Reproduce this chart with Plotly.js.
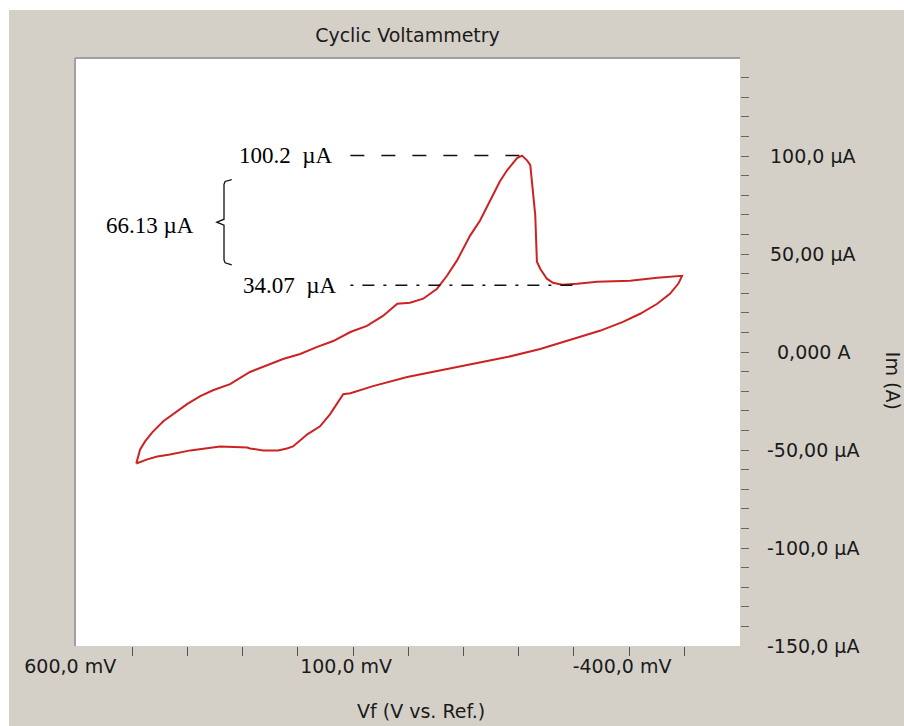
<!DOCTYPE html>
<html>
<head>
<meta charset="utf-8">
<script src="https://cdn.plot.ly/plotly-3.0.1.min.js"></script>
<style>
  html, body { margin: 0; padding: 0; background: #ffffff; }
  #chart { position: absolute; left: 9px; top: 10px; width: 895px; height: 716px; }
</style>
</head>
<body>
<div id="chart"></div>
<script>
// ---- Data ----
// Potential Vf in mV, current Im in µA, one closed cyclic voltammogram loop
const potential_mV = [
  493, 486, 477, 464, 444, 419, 401, 377, 354, 323, 287, 227, 196, 165, 136, 105, 75, 46, 20, -3,
  -27, -52, -70, -88, -112, -130, -154, -166, -179, -197, -206, -215, -221, -226, -230, -233, -239, -251, -262, -279,
  -306, -342, -402, -451, -487, -496,
  -492, -489, -474, -451, -420, -389, -347, -299, -239, -179, -117, -58, 2, 64, 105, 118, 142, 160, 183, 209,
  220, 236, 263, 287, 292, 341, 372, 395, 432, 455, 473, 493
];
const current_uA = [
  -56.9, -49.7, -45.6, -41.0, -35.3, -30.2, -26.6, -22.5, -19.5, -16.4, -10.2, -3.6, -1.0, 2.6, 5.6, 10.2, 13.3, 18.4, 24.6, 25.1,
  27.2, 32.3, 38.9, 46.6, 59.4, 67.1, 79.9, 87.1, 92.7, 98.9, 100.2, 97.8, 95.3, 79.9, 69.7, 46.1, 42.5, 37.4, 35.3, 34.3,
  34.8, 35.9, 36.4, 37.9, 38.9, 38.9,
  36.4, 34.8, 29.7, 24.6, 19.5, 15.4, 10.8, 6.7, 1.5, -2.6, -6.1, -9.7, -12.8, -17.4, -21.0, -21.5, -31.8, -37.9, -42.0, -48.2,
  -49.2, -50.2, -50.2, -49.2, -48.7, -48.2, -49.2, -50.2, -52.3, -53.3, -54.8, -56.9
];

const xTickVals = [600, 100, -400];
const xTickText = ['600,0 mV', '100,0 mV', '-400,0 mV'];
const xMarkVals = [500, 400, 300, 200, 100, 0, -100, -200, -300, -400, -500];

const yTickVals = [100, 50, 0, -50, -100, -150];
const yTickText = ['100,0 µA', '50,00 µA', '0,000 A', '-50,00 µA', '-100,0 µA', '-150,0 µA'];
const yMarkVals = [140, 130, 120, 110, 100, 90, 80, 70, 60, 50, 40, 30, 20, 10, 0, -10, -20, -30, -40, -50,
                   -60, -70, -80, -90, -100, -110, -120, -130, -140];

const peakCurrent = 100.2;      // µA
const baseCurrent = 34.07;      // µA
const deltaCurrent = 66.13;     // µA
const peakPotential = -206;     // mV
const baseEndPotential = -302;  // mV

const chartTitle = 'Cyclic Voltammetry';
const xTitle = 'Vf (V vs. Ref.)';
const yTitle = 'Im (A)';

// ---- Styling / layout ----
const sans = 'DejaVu Sans, Liberation Sans, Arial, sans-serif';
const serif = 'Liberation Serif, Times New Roman, serif';
const textColor = '#1a1a1a';
const sansSize = 19;
const serifSize = 23;
const nb = '\u00a0';

const trace = {
  x: potential_mV,
  y: current_uA,
  type: 'scatter',
  mode: 'lines',
  line: { color: '#cc2222', width: 2 },
  hoverinfo: 'none',
  showlegend: false
};

const lineStart = 105;   // mV, where the dashed guide lines begin
const labelRight = 130;  // mV, right edge of the value labels
const bracketX = 334, bracketTip = 347, bracketHook = 320;
const bTop = 87, bBot = 45.5, bMid = (bTop + bBot) / 2;

const shapes = [
  // sunken border (top and left edges of plot area)
  { type: 'line', xref: 'paper', yref: 'paper', x0: 0, x1: 1, y0: 1, y1: 1,
    line: { color: '#a0a0a0', width: 2 } },
  { type: 'line', xref: 'paper', yref: 'paper', x0: 0, x1: 0, y0: 0, y1: 1,
    line: { color: '#a0a0a0', width: 2 } },
  // peak guide
  { type: 'line', xref: 'x', yref: 'y', x0: lineStart, x1: peakPotential, y0: peakCurrent, y1: peakCurrent,
    line: { color: '#111', width: 1.5, dash: '14px,17px' } },
  // base guide
  { type: 'line', xref: 'x', yref: 'y', x0: lineStart, x1: baseEndPotential, y0: baseCurrent, y1: baseCurrent,
    line: { color: '#111', width: 1.5, dash: '3px,9px,12px,9px' } },
  // curly bracket
  { type: 'path', xref: 'x', yref: 'y',
    path: `M ${bracketHook},${bTop + 1} L ${bracketX - 2},${bTop} L ${bracketX},${bTop - 1.5} ` +
          `L ${bracketX},${bMid + 1.5} L ${bracketTip},${bMid} L ${bracketX},${bMid - 1.5} ` +
          `L ${bracketX},${bBot + 1.5} L ${bracketX - 2},${bBot} L ${bracketHook},${bBot - 1}`,
    line: { color: '#111', width: 1.3 } }
];

const annotations = [
  { xref: 'x', yref: 'y', x: labelRight + 3, y: peakCurrent, xanchor: 'right', yanchor: 'middle',
    text: peakCurrent.toFixed(1) + nb + nb + 'µA', showarrow: false,
    font: { family: serif, size: serifSize, color: '#000' } },
  { xref: 'x', yref: 'y', x: labelRight - 5, y: baseCurrent, xanchor: 'right', yanchor: 'middle',
    text: baseCurrent.toFixed(2) + nb + nb + 'µA', showarrow: false,
    font: { family: serif, size: serifSize, color: '#000' } },
  { xref: 'x', yref: 'y', x: 385, y: bMid - 1.5, xanchor: 'right', yanchor: 'middle',
    text: deltaCurrent.toFixed(2) + nb + 'µA', showarrow: false,
    font: { family: serif, size: serifSize, color: '#000' } },
  // x-axis title
  { xref: 'paper', yref: 'paper', x: 0.52, y: 0, yshift: -65, xanchor: 'center', yanchor: 'middle',
    text: xTitle, showarrow: false, font: { family: sans, size: sansSize, color: textColor } },
  // y-axis title (reads top to bottom)
  { xref: 'paper', yref: 'paper', x: 1.23, y: 0.451, xanchor: 'center', yanchor: 'middle',
    text: yTitle, textangle: 90, showarrow: false, font: { family: sans, size: sansSize, color: textColor } }
];
// y tick labels, centred in the right-hand column
yTickVals.forEach((v, i) => {
  annotations.push({ xref: 'paper', yref: 'y', x: 1.1098, y: v, xanchor: 'center', yanchor: 'middle',
    text: yTickText[i], showarrow: false, font: { family: sans, size: sansSize, color: textColor } });
});

const layout = {
  width: 895, height: 716,
  margin: { l: 66, r: 164, t: 48, b: 80, pad: 0 },
  paper_bgcolor: '#d4d0c8',
  plot_bgcolor: '#ffffff',
  title: { text: chartTitle, x: 0.5, xref: 'paper', xanchor: 'center',
           y: 1 - 25 / 716, yref: 'container', yanchor: 'middle',
           font: { family: sans, size: sansSize, color: textColor } },
  xaxis: {
    range: [604, -601], autorange: false,
    showgrid: false, zeroline: false, showline: false,
    ticks: '', ticklen: 9,
    tickmode: 'array', tickvals: xTickVals, ticktext: xTickText,
    ticklabelshift: 7, ticklabelstandoff: 7,
    tickfont: { family: sans, size: sansSize, color: textColor },
    minor: { tickmode: 'array', tickvals: xMarkVals, ticks: 'outside', ticklen: 9, tickwidth: 1, tickcolor: '#555' }
  },
  yaxis: {
    range: [-150, 150], autorange: false, side: 'right',
    showgrid: false, zeroline: false, showline: false,
    ticks: '', tickmode: 'array', tickvals: [], showticklabels: false,
    minor: { tickmode: 'array', tickvals: yMarkVals, ticks: 'outside', ticklen: 8, tickwidth: 1, tickcolor: '#666' }
  },
  shapes: shapes,
  annotations: annotations
};

Plotly.newPlot('chart', [trace], layout, { staticPlot: true, displayModeBar: false });
</script>
</body>
</html>
